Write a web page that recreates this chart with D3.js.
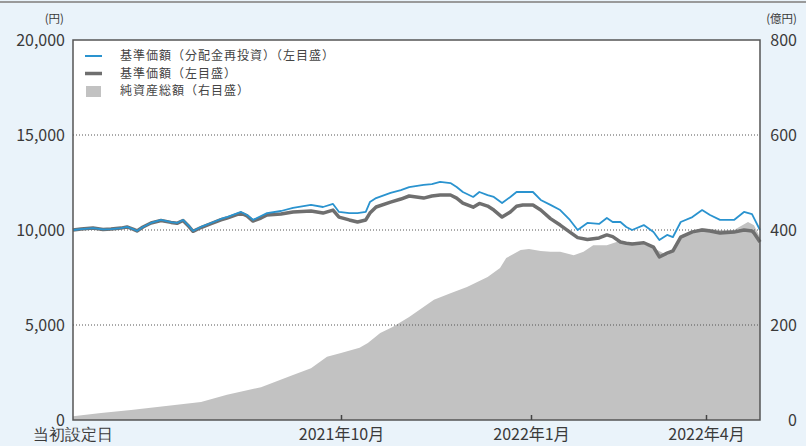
<!DOCTYPE html>
<html>
<head>
<meta charset="utf-8">
<script src="https://cdn.jsdelivr.net/npm/d3@7"></script>
<style>
  body { margin: 0; background: #eaf3fa; }
  svg { display: block; font-family: "Noto Sans CJK JP", "Noto Sans", sans-serif; }
</style>
</head>
<body>
<svg id="drawspace" width="806" height="446"></svg>
<script>
// 基準価額 / 基準価額(分配金再投資) / 純資産総額
const navDates = ["2021-05-20","2021-05-24","2021-05-30","2021-06-04","2021-06-08","2021-06-13","2021-06-16","2021-06-19","2021-06-21","2021-06-24",
  "2021-06-28","2021-07-03","2021-07-08","2021-07-11","2021-07-14","2021-07-17","2021-07-19","2021-07-23","2021-07-28","2021-08-02",
  "2021-08-05","2021-08-12","2021-08-15","2021-08-18","2021-08-22","2021-08-25","2021-09-01","2021-09-07","2021-09-16","2021-09-22",
  "2021-09-27","2021-09-30","2021-10-05","2021-10-09","2021-10-13","2021-10-15","2021-10-18","2021-10-25","2021-10-30","2021-11-03",
  "2021-11-10","2021-11-14","2021-11-18","2021-11-23","2021-11-26","2021-11-29","2021-12-04","2021-12-07","2021-12-11","2021-12-14",
  "2021-12-18","2021-12-22","2021-12-25","2021-12-28","2022-01-02","2022-01-06","2022-01-11","2022-01-16","2022-01-21","2022-01-25",
  "2022-01-30","2022-02-05","2022-02-09","2022-02-12","2022-02-16","2022-02-19","2022-02-22","2022-02-28","2022-03-05","2022-03-08",
  "2022-03-12","2022-03-15","2022-03-19","2022-03-25","2022-03-30","2022-04-03","2022-04-08","2022-04-15","2022-04-20","2022-04-24",
  "2022-04-25","2022-04-28"];
const navReinvest = [10000,10050,10100,10030,10050,10100,10160,10050,9950,10160,
  10370,10530,10420,10370,10530,10210,9950,10160,10370,10580,
  10680,10950,10790,10530,10740,10890,11000,11160,11320,11210,
  11370,10950,10890,10890,10950,11470,11680,11950,12100,12260,
  12370,12420,12530,12470,12260,12000,11740,12000,11840,11740,
  11420,11740,12000,12000,12000,11580,11320,11050,10530,10000,
  10370,10320,10630,10420,10420,10160,10000,10260,9890,9470,
  9740,9630,10420,10680,11050,10790,10530,10530,10950,10840,
  10630,10000];
const nav = [10000,10050,10100,10030,10050,10100,10160,10050,9950,10160,
  10370,10500,10400,10350,10500,10180,9930,10130,10340,10540,
  10630,10890,10740,10470,10630,10790,10840,10950,11000,10890,
  11050,10680,10530,10420,10530,10890,11210,11470,11630,11790,
  11680,11790,11840,11840,11680,11420,11200,11400,11260,11050,
  10680,10950,11250,11320,11320,11050,10600,10260,9890,9600,
  9500,9580,9740,9650,9370,9300,9260,9330,9100,8580,
  8780,8900,9630,9900,10000,9950,9840,9890,10000,9950,
  9840,9370];
const assetDates = ["2021-05-20","2021-06-03","2021-06-18","2021-07-11","2021-07-23","2021-08-05","2021-08-22","2021-09-07","2021-09-16","2021-09-24",
  "2021-10-01","2021-10-10","2021-10-14","2021-10-20","2021-10-26","2021-11-03","2021-11-15","2021-11-23","2021-12-01","2021-12-11",
  "2021-12-17","2021-12-20","2021-12-27","2021-12-31","2022-01-06","2022-01-11","2022-01-16","2022-01-23","2022-01-28","2022-02-02",
  "2022-02-09","2022-02-14","2022-02-21","2022-03-01","2022-03-05","2022-03-12","2022-03-16","2022-03-19","2022-03-24","2022-03-30",
  "2022-04-08","2022-04-15","2022-04-22","2022-04-25","2022-04-28"];
const assets = [8,15,21,32,38,53,69,95,109,133,
  141,152,162,183,196,217,253,267,280,301,
  320,341,358,360,356,354,354,347,354,368,
  368,375,375,368,362,347,358,389,396,404,
  400,400,417,410,385];

const xTickDates = ["2021-10-01","2022-01-01","2022-04-01"];
const xTickLabels = ["2021年10月","2022年1月","2022年4月"];
const startLabel = "当初設定日";
const leftTicks = [0,5000,10000,15000,20000];
const rightTicks = [0,200,400,600,800];
const legendLabels = ["基準価額（分配金再投資）（左目盛）","基準価額（左目盛）","純資産総額（右目盛）"];

let ds = d3.select("#drawspace");
let pd = d3.timeParse("%Y-%m-%d");
let pl = 73, pr = 760, pt = 40, pb = 420;

// top rule
ds.append("line").attr("x1",0).attr("x2",806).attr("y1",2).attr("y2",2)
  .attr("stroke","#9a9a9a").attr("stroke-width",2);

ds.append("rect").attr("x",pl).attr("y",pt).attr("width",pr-pl).attr("height",pb-pt)
  .attr("fill","#fff");

let xscale = d3.scaleTime()
  .domain([pd("2021-05-20"),pd(xTickDates[0]),pd(xTickDates[1]),pd(xTickDates[2]),pd("2022-04-28")])
  .range([pl,341,531,706,pr]);
let yL = d3.scaleLinear().domain([0,20000]).range([pb,pt]);
let yR = d3.scaleLinear().domain([0,800]).range([pb,pt]);

// net assets area
let assetData = assetDates.map((d,i)=>({date:pd(d),v:assets[i]}));
let area = d3.area().x(d=>xscale(d.date)).y0(pb).y1(d=>yR(d.v));
ds.append("path").datum(assetData).attr("d",area).attr("fill","#c2c2c2");

// dotted grid
ds.append("g").selectAll("line").data(leftTicks.filter(v=>v>0 && v<20000))
  .enter().append("line")
  .attr("x1",pl).attr("x2",pr)
  .attr("y1",d=>yL(d)).attr("y2",d=>yL(d))
  .attr("stroke","#555").attr("stroke-width",1).attr("stroke-dasharray","1,2");

// nav lines
let navData = navDates.map((d,i)=>({date:pd(d),a:navReinvest[i],b:nav[i]}));
let lineB = d3.line().x(d=>xscale(d.date)).y(d=>yL(d.b));
let lineA = d3.line().x(d=>xscale(d.date)).y(d=>yL(d.a));
ds.append("path").datum(navData).attr("d",lineB).attr("fill","none")
  .attr("stroke","#6f6f6f").attr("stroke-width",3.5).attr("stroke-linejoin","round");
ds.append("path").datum(navData).attr("d",lineA).attr("fill","none")
  .attr("stroke","#2a93cf").attr("stroke-width",1.8).attr("stroke-linejoin","round");

// frame
ds.append("rect").attr("x",pl).attr("y",pt).attr("width",pr-pl).attr("height",pb-pt)
  .attr("fill","none").attr("stroke","#555").attr("stroke-width",1.5);

// axes
let axL = ds.append("g").attr("transform","translate("+pl+",0)")
  .call(d3.axisLeft(yL).tickValues(leftTicks).tickFormat(d3.format(",")).tickSize(0).tickPadding(8));
let axR = ds.append("g").attr("transform","translate("+pr+",0)")
  .call(d3.axisRight(yR).tickValues(rightTicks).tickSize(0));
axR.selectAll("text").attr("text-anchor","end").attr("x",37);
let axB = ds.append("g").attr("transform","translate(0,"+pb+")")
  .call(d3.axisBottom(xscale).tickValues(xTickDates.map(pd)).tickFormat((d,i)=>xTickLabels[i]).tickSize(-5).tickPadding(9));
[axL,axR,axB].forEach(a=>{
  a.select(".domain").remove();
  a.selectAll("text").attr("font-size",16).attr("fill","#3a3a3a").attr("font-family","Noto Sans CJK JP");
  a.selectAll("line").attr("stroke","#444").attr("stroke-width",1.5);
});
axB.append("text").attr("x",pl).attr("y",9).attr("dy","0.71em")
  .attr("text-anchor","middle").attr("font-size",16).attr("fill","#3a3a3a").text(startLabel);

ds.append("text").attr("x",64).attr("y",23).attr("text-anchor","end")
  .attr("font-size",11.5).attr("fill","#3a3a3a").text("(円)");
ds.append("text").attr("x",797).attr("y",23).attr("text-anchor","end")
  .attr("font-size",11.5).attr("fill","#3a3a3a").text("(億円)");

// legend
let lg = ds.append("g").attr("transform","translate(85,56)");
lg.append("line").attr("x1",0).attr("x2",17).attr("y1",0).attr("y2",0).attr("stroke","#2a93cf").attr("stroke-width",2);
lg.append("line").attr("x1",0).attr("x2",17).attr("y1",17.5).attr("y2",17.5).attr("stroke","#6f6f6f").attr("stroke-width",3.5);
lg.append("rect").attr("x",1).attr("y",30).attr("width",15).attr("height",11).attr("fill","#c2c2c2");
lg.selectAll("text.lab").data(legendLabels).enter().append("text").attr("class","lab")
  .attr("x",35).attr("y",(d,i)=>i*17.5).attr("dy","0.35em")
  .attr("font-size",12).attr("letter-spacing",1).attr("fill","#444").text(d=>d);
</script>
</body>
</html>
